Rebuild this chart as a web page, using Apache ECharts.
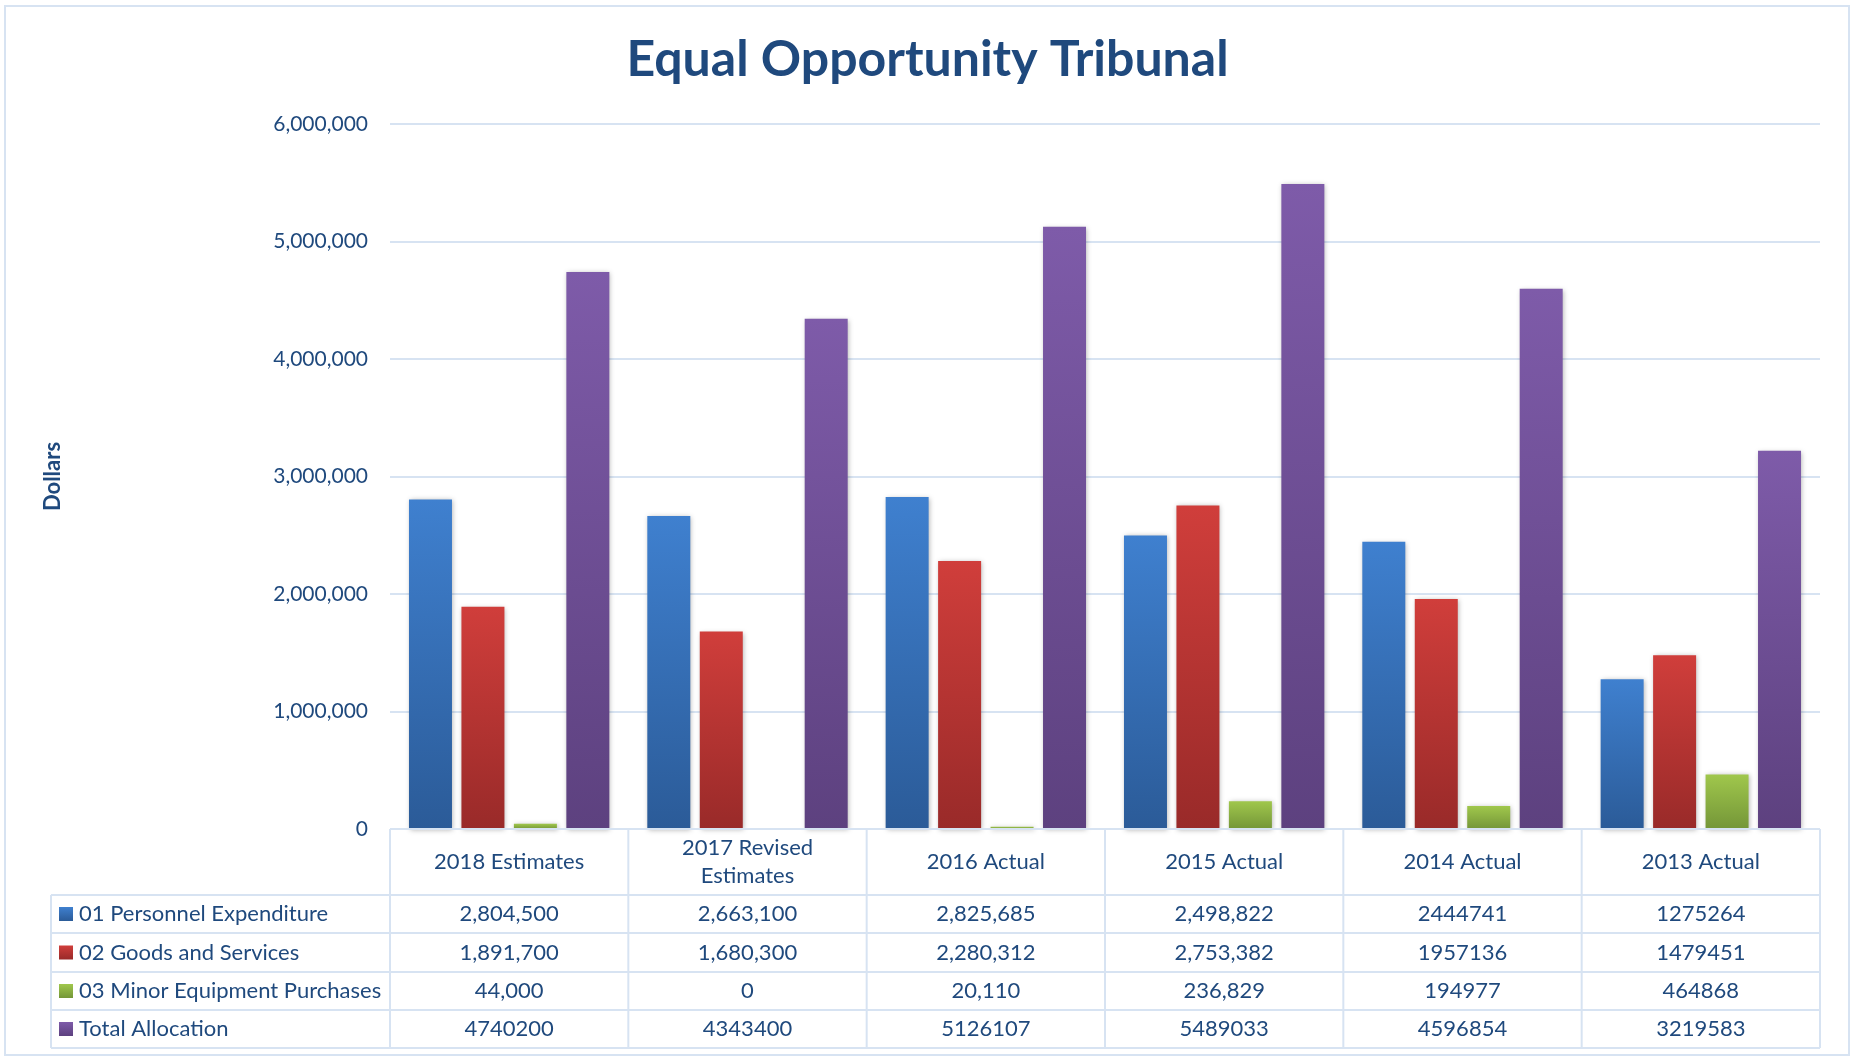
<!DOCTYPE html>
<html><head><meta charset="utf-8">
<script src="https://cdn.jsdelivr.net/npm/echarts@6/dist/echarts.min.js"></script>
<style>html,body{margin:0;padding:0;background:#fff}#c{width:1855px;height:1058px}</style>
</head><body><div id="c"></div>
<script>
const categories = ['2018 Estimates', '2017 Revised\nEstimates', '2016 Actual', '2015 Actual', '2014 Actual', '2013 Actual'];
const seriesNames = ['01 Personnel Expenditure', '02 Goods and Services', '03 Minor Equipment Purchases', 'Total Allocation'];
const personnel = [2804500, 2663100, 2825685, 2498822, 2444741, 1275264];
const goods = [1891700, 1680300, 2280312, 2753382, 1957136, 1479451];
const equipment = [44000, 0, 20110, 236829, 194977, 464868];
const total = [4740200, 4343400, 5126107, 5489033, 4596854, 3219583];
const yTicks = [0, 1000000, 2000000, 3000000, 4000000, 5000000, 6000000];
// table formatting as printed in the source: thousands separators only in some cells
const commaCols = [true, true, true, true, false, false];
const commaRows = [true, true, true, false];

const allSeries = [personnel, goods, equipment, total];
const gradients = [['#3F80CF', '#2B5B98'], ['#D03E3B', '#992A29'], ['#A0C74C', '#749638'], ['#7E5BA9', '#5D417F']];
const FONT = 'Lato';
const TXT = '#1F497D';
const LINE = '#D7E3F2';

const W = 1855, H = 1058;
const gridL = 390, gridR = 35, gridT = 124, gridB = 229;
const axisY = H - gridB;
const rowTops = [895, 933, 972, 1010, 1048];
const tableLeft = 51;

function fmt(v, r, c) {
  if (commaRows[r] && commaCols[c]) return v.toLocaleString('en-US');
  return String(v);
}
function grad(c) {
  return new echarts.graphic.LinearGradient(0, 0, 0, 1, [{offset: 0, color: c[0]}, {offset: 1, color: c[1]}]);
}

const chart = echarts.init(document.getElementById('c'), null, {renderer: 'canvas'});

const xAxes = [{
  type: 'category', data: categories, gridIndex: 0, position: 'bottom',
  axisLine: {show: false}, axisTick: {show: false},
  axisLabel: {color: TXT, fontFamily: FONT, fontSize: 22, lineHeight: 28, margin: 33, verticalAlign: 'middle', interval: 0}
}];
allSeries.forEach((arr, r) => {
  const mid = (rowTops[r] + rowTops[r + 1]) / 2 - axisY;
  xAxes.push({
    type: 'category', data: arr.map((v, c) => fmt(v, r, c)), gridIndex: 0, position: 'bottom', offset: mid,
    axisLine: {show: false}, axisTick: {show: false}, splitLine: {show: false},
    axisLabel: {color: TXT, fontFamily: FONT, fontSize: 22, margin: 0, verticalAlign: 'middle', interval: 0}
  });
});

const graphics = [];
graphics.push({type: 'rect', shape: {x: 5, y: 6, width: 1844, height: 1049}, style: {fill: 'none', stroke: LINE, lineWidth: 2}, silent: true, z: 0});
graphics.push({type: 'line', shape: {x1: gridL, y1: axisY, x2: W - gridR, y2: axisY}, style: {stroke: LINE, lineWidth: 2}, z: 5});
rowTops.forEach(y => graphics.push({type: 'line', shape: {x1: tableLeft, y1: y, x2: W - gridR, y2: y}, style: {stroke: LINE, lineWidth: 2}, z: 5}));
const colW = (W - gridL - gridR) / categories.length;
for (let i = 0; i <= categories.length; i++) {
  const x = gridL + colW * i;
  graphics.push({type: 'line', shape: {x1: x, y1: axisY, x2: x, y2: rowTops[rowTops.length - 1]}, style: {stroke: LINE, lineWidth: 2}, z: 5});
}
graphics.push({type: 'line', shape: {x1: tableLeft, y1: rowTops[0], x2: tableLeft, y2: rowTops[rowTops.length - 1]}, style: {stroke: LINE, lineWidth: 2}, z: 5});
seriesNames.forEach((n, r) => {
  const mid = (rowTops[r] + rowTops[r + 1]) / 2;
  graphics.push({type: 'rect', shape: {x: 59, y: mid - 7, width: 14, height: 14}, style: {fill: grad(gradients[r])}, z: 6});
  graphics.push({type: 'text', x: 79, y: mid, style: {text: n, fill: TXT, font: '22px ' + FONT, textVerticalAlign: 'middle', verticalAlign: 'middle'}, z: 6});
});

chart.setOption({
  backgroundColor: '#fff',
  animation: false,
  title: {text: 'Equal Opportunity Tribunal', left: 'center', top: 30,
    textStyle: {color: TXT, fontFamily: FONT, fontWeight: 'bold', fontSize: 50}},
  grid: {left: gridL, right: gridR, top: gridT, bottom: gridB, containLabel: false},
  xAxis: xAxes,
  yAxis: {
    type: 'value', min: yTicks[0], max: yTicks[yTicks.length - 1], interval: yTicks[1] - yTicks[0],
    name: 'Dollars', nameLocation: 'middle', nameGap: 326, nameRotate: 90,
    nameTextStyle: {color: TXT, fontFamily: FONT, fontWeight: 'bold', fontSize: 22},
    axisLine: {show: false}, axisTick: {show: false},
    axisLabel: {color: TXT, fontFamily: FONT, fontSize: 21, margin: 22, formatter: v => v.toLocaleString('en-US')},
    splitLine: {lineStyle: {color: LINE, width: 2}}
  },
  series: allSeries.map((arr, i) => ({
    name: seriesNames[i], type: 'bar', xAxisIndex: 0, data: arr,
    barWidth: 43, barGap: '22%',
    itemStyle: {color: grad(gradients[i]), shadowBlur: 5, shadowColor: 'rgba(0,0,0,0.3)', shadowOffsetX: 1, shadowOffsetY: 1}
  })),
  graphic: graphics
});
</script></body></html>
